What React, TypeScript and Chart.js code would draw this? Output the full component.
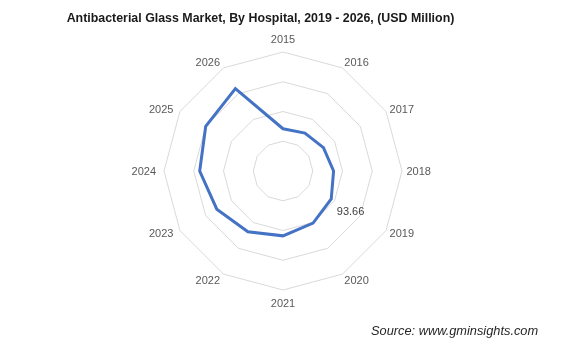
import React, { useEffect, useRef } from "react";
import { Chart, registerables } from "chart.js";

Chart.register(...registerables);

const years = ["2015", "2016", "2017", "2018", "2019", "2020", "2021", "2022", "2023", "2024", "2025", "2026"];
const hospitalValues = [71, 73.6, 78.5, 85, 93.66, 101, 109, 118, 128.5, 140, 150, 160];
const labeledIndex = 4;
const scaleMin = 0;
const scaleMax = 200;
const scaleStep = 50;

const titleText = "Antibacterial Glass Market, By Hospital, 2019 - 2026, (USD Million)";
const sourceText = "Source: www.gminsights.com";

const FONT = "'Liberation Sans', Arial, sans-serif";

const pointLabelPlugin = {
  id: "excelPointLabels",
  afterDraw(chart: any) {
    const scale = chart.scales.r;
    const ctx = chart.ctx;
    ctx.save();
    ctx.font = `11px ${FONT}`;
    ctx.fillStyle = "#595959";
    ctx.textBaseline = "alphabetic";
    const n = years.length;
    years.forEach((lab, i) => {
      const p = scale.getPointPosition(i, scale.drawingArea);
      const rad = (i * 2 * Math.PI) / n;
      const s = Math.sin(rad);
      const c = Math.cos(rad);
      let x = p.x;
      let yc = p.y;
      if (Math.abs(s) < 1e-6) {
        ctx.textAlign = "center";
        yc = p.y - 13 * Math.sign(c);
      } else if (s > 0) {
        ctx.textAlign = "left";
        x = p.x + 1 + 3.4 * s * s;
        yc = p.y - 8.4 * c * Math.abs(c);
      } else {
        ctx.textAlign = "right";
        x = p.x - (2 + 6 * s * s);
        yc = p.y - 8.4 * c * Math.abs(c);
      }
      ctx.fillText(lab, x, yc + 4);
    });
    ctx.restore();
  },
};

const valueLabelPlugin = {
  id: "valueLabel",
  afterDatasetsDraw(chart: any) {
    const meta = chart.getDatasetMeta(0);
    const el = meta.data[labeledIndex];
    if (!el) return;
    const ctx = chart.ctx;
    ctx.save();
    ctx.font = `11px ${FONT}`;
    ctx.fillStyle = "#404040";
    ctx.textAlign = "center";
    ctx.textBaseline = "alphabetic";
    ctx.fillText(hospitalValues[labeledIndex].toFixed(2), el.x + 19.3, el.y + 15.7);
    ctx.restore();
  },
};

export default function App() {
  const ref = useRef<HTMLCanvasElement>(null);
  useEffect(() => {
    if (!ref.current) return;
    const chart = new Chart(ref.current, {
      type: "radar",
      data: {
        labels: years,
        datasets: [
          {
            data: hospitalValues,
            borderColor: "#4472C4",
            borderWidth: 3,
            pointRadius: 0,
            fill: false,
            tension: 0,
          },
        ],
      },
      options: {
        animation: false,
        responsive: false,
        maintainAspectRatio: false,
        layout: { padding: { top: 52, bottom: 68, left: 2, right: 0 } },
        plugins: { legend: { display: false }, tooltip: { enabled: false }, title: { display: false } },
        scales: {
          r: {
            min: scaleMin,
            max: scaleMax,
            ticks: { display: false, stepSize: scaleStep },
            grid: { color: "#d9d9d9", lineWidth: 1, circular: false },
            angleLines: { display: false },
            pointLabels: { display: false },
          },
        },
      },
      plugins: [pointLabelPlugin, valueLabelPlugin],
    });
    return () => chart.destroy();
  }, []);

  return (
    <div style={{ position: "absolute", left: 0, top: 0, width: 564, height: 358, background: "#fff" }}>
      <canvas ref={ref} width={564} height={358} style={{ position: "absolute", left: 0, top: 0 }} />
      <div
        style={{
          position: "absolute",
          left: 0,
          width: 521,
          top: 10,
          textAlign: "center",
          fontFamily: FONT,
          fontWeight: "bold",
          fontSize: 12.4,
          color: "#1a1a1a",
          lineHeight: "16px",
          whiteSpace: "nowrap",
        }}
      >
        {titleText}
      </div>
      <div
        style={{
          position: "absolute",
          left: 371,
          top: 323,
          fontFamily: FONT,
          fontStyle: "italic",
          fontSize: 12.8,
          color: "#262626",
          lineHeight: "16px",
          whiteSpace: "nowrap",
        }}
      >
        {sourceText}
      </div>
    </div>
  );
}
